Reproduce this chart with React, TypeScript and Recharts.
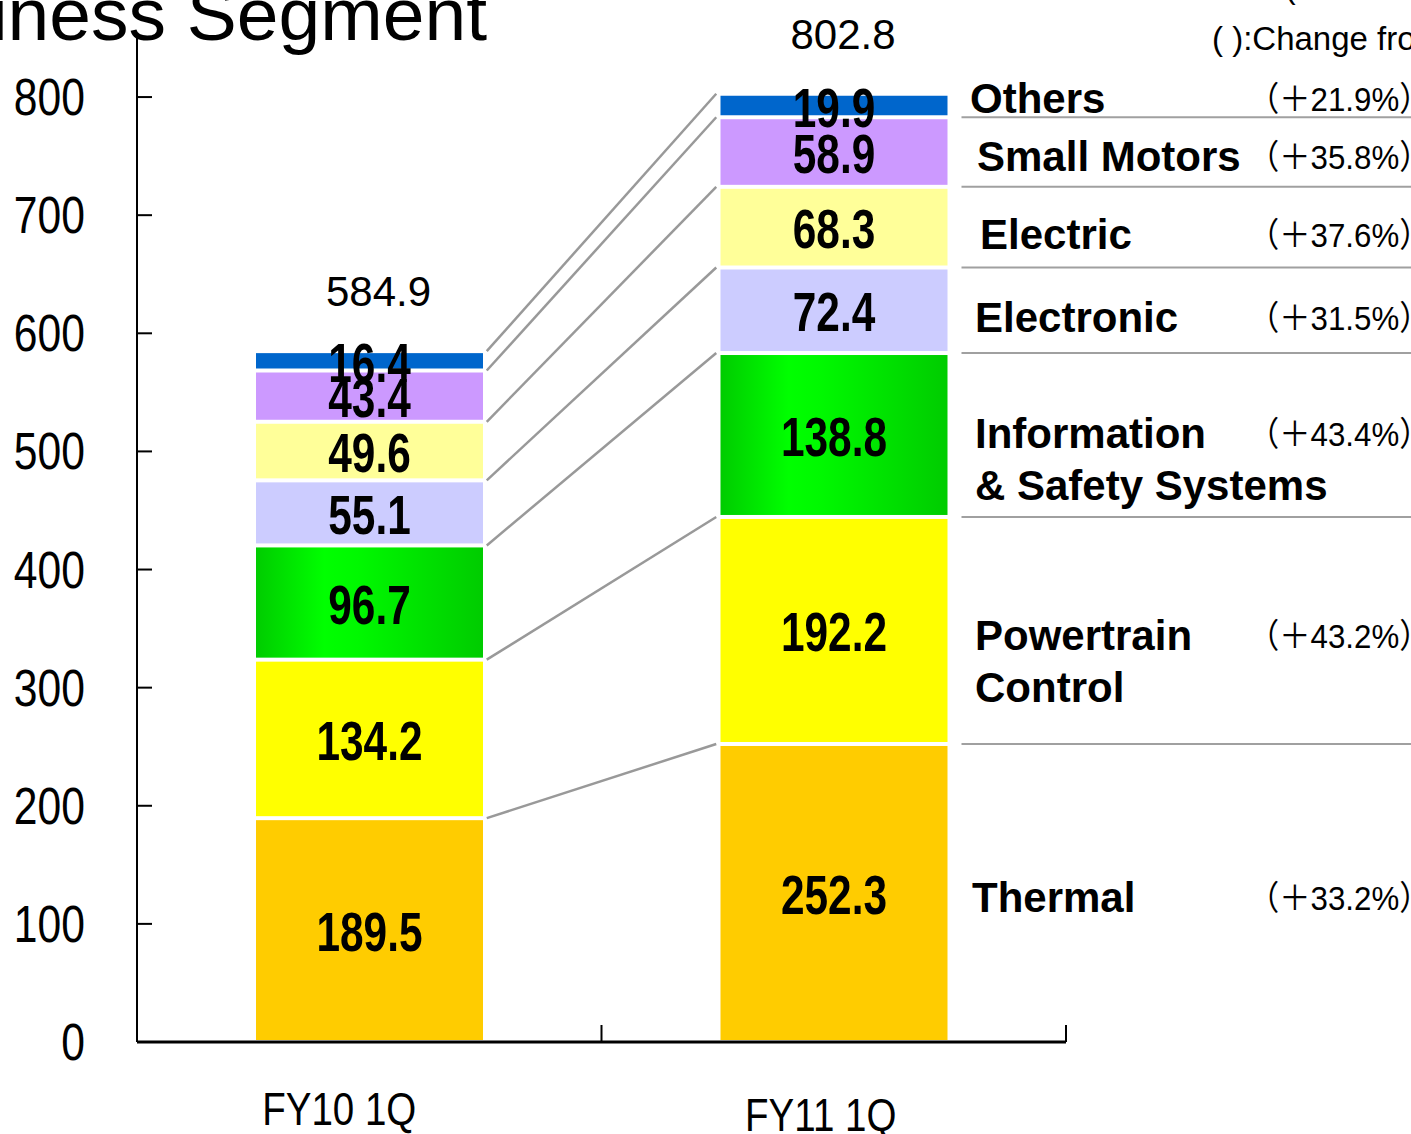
import { Bar, BarChart, LabelList, ReferenceLine, XAxis, YAxis } from "recharts";

const periods = ["FY10 1Q", "FY11 1Q"];
const thermal = [189.5, 252.3];
const powertrain = [134.2, 192.2];
const infoSafety = [96.7, 138.8];
const electronic = [55.1, 72.4];
const electric = [49.6, 68.3];
const smallMotors = [43.4, 58.9];
const others = [16.4, 19.9];
const totals = [584.9, 802.8];
const changes = [33.2, 43.2, 43.4, 31.5, 37.6, 35.8, 21.9];
const yTicks = [0, 100, 200, 300, 400, 500, 600, 700, 800];

const W = 1411;
const H = 1134;
const LEFT = 137;
const RIGHT = 345;
const BAR = 227;
const GAP = 4;
const HALF_BAND = (W - LEFT - RIGHT) / periods.length / 2;

const SANS = "'Liberation Sans', Arial, sans-serif";
const PCT = "'Liberation Sans', 'Noto Sans CJK JP', sans-serif";

// bottom to top of the stack
const series = [
  { key: "thermal", values: thermal, color: "#FFCC00", lines: ["Thermal"], shift: 19, dx: 0 },
  { key: "powertrain", values: powertrain, color: "#FFFF00", lines: ["Powertrain", "Control"], shift: 46, dx: 3 },
  { key: "infoSafety", values: infoSafety, color: "url(#infoGreen)", lines: ["Information", "& Safety Systems"], shift: 39, dx: 3 },
  { key: "electronic", values: electronic, color: "#CCCCFF", lines: ["Electronic"], shift: 22, dx: 3 },
  { key: "electric", values: electric, color: "#FFFF99", lines: ["Electric"], shift: 22, dx: 8 },
  { key: "smallMotors", values: smallMotors, color: "#CC99FF", lines: ["Small Motors"], shift: 19, dx: 5 },
  { key: "others", values: others, color: "#0066CC", lines: ["Others"], shift: 7, dx: -2 },
];

const rows = periods.map((period, i) => {
  const row: Record<string, string | number> = { period, total: totals[i] };
  series.forEach((s) => (row[s.key] = s.values[i]));
  return row;
});

const stackTops = (p: number) => {
  let acc = 0;
  return series.map((s) => (acc += s.values[p]));
};
const topsFrom = stackTops(0);
const topsTo = stackTops(1);

const box = (props: any) => {
  const vb = props.viewBox || {};
  return {
    x: props.x ?? vb.x,
    y: props.y ?? vb.y,
    width: props.width ?? vb.width,
    height: props.height ?? vb.height,
  };
};

// horizontally squeezed text, standing in for a narrow face
const Squeezed = ({
  x,
  y,
  size,
  squeeze = 0.82,
  anchor = "start",
  bold = false,
  family = SANS,
  children,
}: any) => (
  <text
    transform={`translate(${x} ${y}) scale(${squeeze} 1)`}
    textAnchor={anchor}
    fontFamily={family}
    fontWeight={bold ? "bold" : "normal"}
    fontSize={size}
    fill="#000"
  >
    {children}
  </text>
);

const Segment = (props: any) => {
  const { x, y, width, height, fill } = props;
  return <rect x={x} y={y + GAP / 2} width={width} height={Math.max(height - GAP, 0)} fill={fill} />;
};

const ValueLabel = (props: any) => {
  const { x, y, width, height } = box(props);
  return (
    <Squeezed x={x + width / 2} y={y + height / 2 + 21} size={55} squeeze={0.77} anchor="middle" bold>
      {Number(props.value).toFixed(1)}
    </Squeezed>
  );
};

const TotalLabel = (props: any) => {
  const { x, y, width } = box(props);
  return (
    <text x={x + width / 2 + 9} y={y - 45} textAnchor="middle" fontFamily={SANS} fontSize={42} fill="#000">
      {Number(props.value).toFixed(1)}
    </text>
  );
};

const sideLabel = (idx: number) => (props: any) => {
  if (props.index !== 1) return null;
  const s = series[idx];
  const { x, y, width, height } = box(props);
  const first = y + height / 2 + s.shift - (s.lines.length - 1) * 26;
  return (
    <g>
      {idx < series.length - 1 && (
        <line x1={x + width + 14} x2={W} y1={y} y2={y} stroke="#A0A0A0" strokeWidth={2} />
      )}
      {s.lines.map((line, i) => (
        <text key={line} x={972 + s.dx} y={first + i * 52} fontFamily={SANS} fontWeight="bold" fontSize={42} fill="#000">
          {line}
        </text>
      ))}
      <Squeezed x={1248} y={first - 2} size={34} squeeze={0.92} family={PCT}>
        {`（＋${changes[idx].toFixed(1)}%）`}
      </Squeezed>
    </g>
  );
};

const Connector = (props: any) => {
  const { x1, y1, x2, y2 } = props;
  return (
    <line x1={x1 + BAR / 2 + 4} y1={y1} x2={x2 - BAR / 2 - 4} y2={y2} stroke="#999999" strokeWidth={2.5} />
  );
};

const ValueTick = (props: any) => {
  const { x, y, payload } = props;
  return (
    <g>
      <line x1={x} x2={x + 15} y1={y} y2={y} stroke="#000" strokeWidth={2} />
      <Squeezed x={x - 52} y={y + 18} size={52} anchor="end">
        {payload.value}
      </Squeezed>
    </g>
  );
};

const periodShift = [
  { dx: -30, dy: 83 },
  { dx: -13, dy: 89 },
];

const PeriodTick = (props: any) => {
  const { x, y, payload, index } = props;
  const shift = periodShift[index] || { dx: 0, dy: 85 };
  return (
    <g>
      <line x1={x + HALF_BAND} x2={x + HALF_BAND} y1={y - 17} y2={y} stroke="#000" strokeWidth={2} />
      <Squeezed x={x + shift.dx} y={y + shift.dy} size={47} anchor="middle">
        {payload.value}
      </Squeezed>
    </g>
  );
};

export default function App() {
  return (
    <div style={{ position: "absolute", left: 0, top: 0, width: W, height: H, background: "#fff", overflow: "hidden" }}>
      <BarChart
        width={W}
        height={H}
        data={rows}
        margin={{ top: 38, right: RIGHT, left: 0, bottom: 0 }}
        barSize={BAR}
      >
        <defs>
          <linearGradient id="infoGreen" x1="0" y1="0" x2="1" y2="0">
            <stop offset="0%" stopColor="#00CC00" />
            <stop offset="30%" stopColor="#00FF00" />
            <stop offset="45%" stopColor="#00F800" />
            <stop offset="100%" stopColor="#00CC00" />
          </linearGradient>
        </defs>
        <XAxis
          dataKey="period"
          height={92}
          interval={0}
          tickLine={false}
          tickSize={0}
          tickMargin={0}
          axisLine={{ stroke: "#000", strokeWidth: 3 }}
          tick={<PeriodTick />}
        />
        <YAxis
          width={LEFT}
          domain={[0, 850]}
          ticks={yTicks}
          interval={0}
          tickLine={false}
          tickSize={0}
          tickMargin={0}
          axisLine={{ stroke: "#000", strokeWidth: 2 }}
          tick={<ValueTick />}
        />
        {series.map((s, idx) => (
          <Bar
            key={s.key}
            dataKey={s.key}
            name={s.lines.join(" ")}
            stackId="sales"
            fill={s.color}
            shape={<Segment />}
            isAnimationActive={false}
          >
            <LabelList dataKey={s.key} content={<ValueLabel />} />
            <LabelList dataKey={s.key} content={sideLabel(idx)} />
            {idx === series.length - 1 && <LabelList dataKey="total" content={<TotalLabel />} />}
          </Bar>
        ))}
        {series.map((s, idx) => (
          <ReferenceLine
            key={`link-${s.key}`}
            ifOverflow="visible"
            segment={[
              { x: periods[0], y: topsFrom[idx] },
              { x: periods[1], y: topsTo[idx] },
            ]}
            shape={<Connector />}
          />
        ))}
      </BarChart>
      <svg
        width={W}
        height={H}
        style={{ position: "absolute", left: 0, top: 0, pointerEvents: "none" }}
      >
        <text x={487} y={40} textAnchor="end" fontFamily={SANS} fontSize={75} fill="#000">
          Sales by Business Segment
        </text>
        <text x={1285} y={-2} fontFamily={SANS} fontSize={32} fill="#000">
          (Billions of Yen)
        </text>
        <text x={1212} y={50} fontFamily={SANS} fontSize={33} fill="#000">
          ( ):Change from FY10 1Q
        </text>
      </svg>
    </div>
  );
}
